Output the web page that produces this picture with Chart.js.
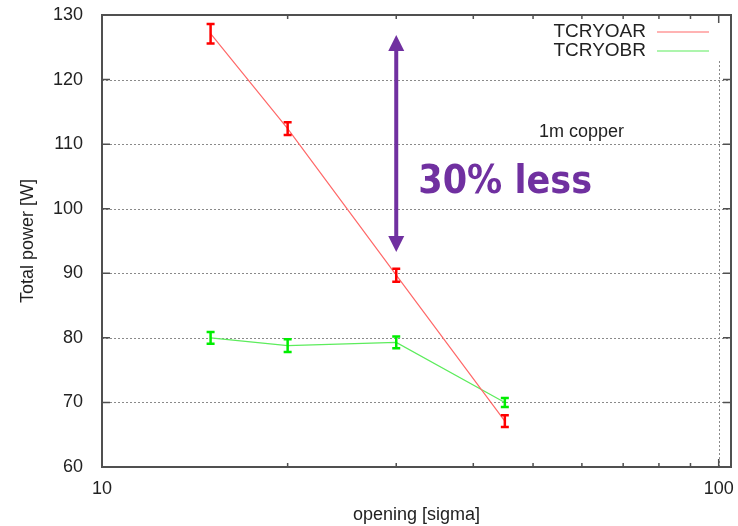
<!DOCTYPE html>
<html lang="en">
<head>
    <meta charset="UTF-8">
    <title>Total power vs opening</title>
    <script src="https://cdn.jsdelivr.net/npm/chart.js"></script>
    <style>
        html, body { margin: 0; padding: 0; background: #fff; }
        #wrap { width: 738px; height: 526px; }
    </style>
</head>
<body>
    <div id="wrap"><canvas id="powerChart" width="738" height="526"></canvas></div>

    <script>
        // values
        const openings = [15, 20, 30, 45];
        const powerA = [127.1, 112.4, 89.7, 67.1];
        const errA = [1.5, 1.0, 1.0, 0.9];
        const powerB = [80.0, 78.8, 79.3, 70.0];
        const errB = [0.9, 1.0, 0.9, 0.7];

        const xTicks = [10, 20, 30, 40, 50, 60, 70, 80, 90, 100];
        const xLabels = [10, 100];
        const yTicks = [60, 70, 80, 90, 100, 110, 120, 130];
        const yGrid = [70, 80, 90, 100, 110, 120];
        const xGrid = [100];

        // annotation: arrow at opening 30 and labels
        const arrowX = 30;
        const arrowFrom = 93.3;
        const arrowTo = 126.9;
        const noteText = '30% less';
        const copperText = '1m copper';

        const FONT = '"Liberation Sans", Arial, sans-serif';
        const frameColor = '#505050';

        const extrasPlugin = {
            id: 'extras',
            beforeDatasetsDraw(chart) {
                const { ctx, chartArea: a, scales: { x, y } } = chart;
                ctx.save();
                ctx.strokeStyle = '#8a8a8a';
                ctx.lineWidth = 1;
                ctx.setLineDash([2, 2]);
                yGrid.forEach(v => {
                    const py = Math.round(y.getPixelForValue(v)) + 0.5;
                    ctx.beginPath();
                    ctx.moveTo(a.left, py);
                    ctx.lineTo(a.right, py);
                    ctx.stroke();
                });
                xGrid.forEach(v => {
                    const px = Math.round(x.getPixelForValue(v)) + 0.5;
                    ctx.beginPath();
                    ctx.moveTo(px, a.bottom);
                    ctx.lineTo(px, a.top + 44);
                    ctx.stroke();
                });
                ctx.restore();
            },
            afterDatasetsDraw(chart) {
                const { ctx, scales: { x, y } } = chart;
                ctx.save();
                chart.data.datasets.forEach(ds => {
                    ctx.strokeStyle = ds.barColor;
                    ctx.lineWidth = 2.5;
                    ds.data.forEach((p, i) => {
                        const px = x.getPixelForValue(p.x);
                        const lo = y.getPixelForValue(p.y - ds.errors[i]);
                        const hi = y.getPixelForValue(p.y + ds.errors[i]);
                        ctx.beginPath();
                        ctx.moveTo(px, lo);
                        ctx.lineTo(px, hi);
                        ctx.moveTo(px - 4, lo);
                        ctx.lineTo(px + 4, lo);
                        ctx.moveTo(px - 4, hi);
                        ctx.lineTo(px + 4, hi);
                        ctx.stroke();
                    });
                });
                ctx.restore();
            },
            afterDraw(chart) {
                const { ctx, chartArea: a, scales: { x, y } } = chart;
                ctx.save();

                // frame and inward ticks
                ctx.strokeStyle = frameColor;
                ctx.lineWidth = 2;
                ctx.strokeRect(a.left, a.top, a.right - a.left, a.bottom - a.top);
                ctx.lineWidth = 1.5;
                yTicks.forEach(v => {
                    const py = y.getPixelForValue(v);
                    ctx.beginPath();
                    ctx.moveTo(a.left, py);
                    ctx.lineTo(a.left + 8, py);
                    ctx.moveTo(a.right, py);
                    ctx.lineTo(a.right - 8, py);
                    ctx.stroke();
                });
                xTicks.forEach(v => {
                    const px = x.getPixelForValue(v);
                    const len = xLabels.includes(v) ? 8 : 4;
                    ctx.beginPath();
                    ctx.moveTo(px, a.bottom);
                    ctx.lineTo(px, a.bottom - len);
                    ctx.moveTo(px, a.top);
                    ctx.lineTo(px, a.top + len);
                    ctx.stroke();
                });

                // legend, gnuplot style (text then line)
                ctx.font = '19px ' + FONT;
                ctx.textAlign = 'right';
                ctx.textBaseline = 'middle';
                chart.data.datasets.forEach((ds, i) => {
                    const ly = a.top + 17 + i * 19;
                    ctx.fillStyle = '#222';
                    ctx.fillText(ds.label, a.left + 544, ly);
                    ctx.strokeStyle = ds.borderColor;
                    ctx.lineWidth = 1.2;
                    ctx.beginPath();
                    ctx.moveTo(a.left + 555, ly);
                    ctx.lineTo(a.left + 607, ly);
                    ctx.stroke();
                });

                // 1m copper label
                ctx.textAlign = 'left';
                ctx.textBaseline = 'alphabetic';
                ctx.font = '18px ' + FONT;
                ctx.fillStyle = '#222';
                ctx.fillText(copperText, a.left + 437, a.top + 122);

                // double arrow
                const purple = '#7030a0';
                const ax = x.getPixelForValue(arrowX);
                const top = y.getPixelForValue(arrowTo);
                const bot = y.getPixelForValue(arrowFrom);
                ctx.strokeStyle = purple;
                ctx.fillStyle = purple;
                ctx.lineWidth = 4;
                ctx.beginPath();
                ctx.moveTo(ax, top + 12);
                ctx.lineTo(ax, bot - 12);
                ctx.stroke();
                ctx.beginPath();
                ctx.moveTo(ax, top);
                ctx.lineTo(ax - 8, top + 16);
                ctx.lineTo(ax + 8, top + 16);
                ctx.closePath();
                ctx.fill();
                ctx.beginPath();
                ctx.moveTo(ax, bot);
                ctx.lineTo(ax - 8, bot - 16);
                ctx.lineTo(ax + 8, bot - 16);
                ctx.closePath();
                ctx.fill();

                ctx.font = 'bold 39px "DejaVu Sans Condensed", "DejaVu Sans", sans-serif';
                ctx.fillText(noteText, ax + 22, a.top + 178);
                ctx.restore();
            }
        };

        const ctx = document.getElementById('powerChart').getContext('2d');
        new Chart(ctx, {
            type: 'line',
            data: {
                datasets: [{
                    label: 'TCRYOAR',
                    data: openings.map((o, i) => ({ x: o, y: powerA[i] })),
                    errors: errA,
                    borderColor: '#ff6868',
                    barColor: '#ff0000',
                    borderWidth: 1.2,
                    pointRadius: 0,
                    tension: 0
                }, {
                    label: 'TCRYOBR',
                    data: openings.map((o, i) => ({ x: o, y: powerB[i] })),
                    errors: errB,
                    borderColor: '#5cec5c',
                    barColor: '#00ee00',
                    borderWidth: 1.2,
                    pointRadius: 0,
                    tension: 0
                }]
            },
            options: {
                responsive: false,
                animation: false,
                layout: { padding: { left: 0, right: 7, top: 15, bottom: 0 } },
                plugins: {
                    legend: { display: false },
                    tooltip: { enabled: false }
                },
                scales: {
                    x: {
                        type: 'logarithmic',
                        min: 10,
                        max: 104.7,
                        afterBuildTicks: scale => {
                            scale.ticks = xTicks.map(v => ({ value: v }));
                        },
                        afterFit: scale => {
                            scale.height = 59;
                            scale.paddingLeft = 0;
                            scale.paddingRight = 0;
                        },
                        grid: { display: false },
                        border: { display: false },
                        ticks: {
                            autoSkip: false,
                            maxRotation: 0,
                            padding: 3,
                            color: '#222',
                            font: { family: FONT, size: 18 },
                            callback: v => xLabels.includes(v) ? String(v) : ''
                        },
                        title: {
                            display: true,
                            text: 'opening [sigma]',
                            color: '#222',
                            font: { family: FONT, size: 18 },
                            padding: { top: 0, bottom: 0 }
                        }
                    },
                    y: {
                        min: 60,
                        max: 130,
                        afterBuildTicks: scale => {
                            scale.ticks = yTicks.map(v => ({ value: v }));
                        },
                        afterFit: scale => {
                            scale.width = 102;
                            scale.paddingTop = 0;
                            scale.paddingBottom = 0;
                        },
                        grid: { display: false },
                        border: { display: false },
                        ticks: {
                            padding: 11,
                            color: '#222',
                            font: { family: FONT, size: 18 }
                        },
                        title: {
                            display: true,
                            text: 'Total power [W]',
                            color: '#222',
                            font: { family: FONT, size: 18 },
                            padding: { top: 17, bottom: 0 }
                        }
                    }
                }
            },
            plugins: [extrasPlugin]
        });
    </script>
</body>
</html>
